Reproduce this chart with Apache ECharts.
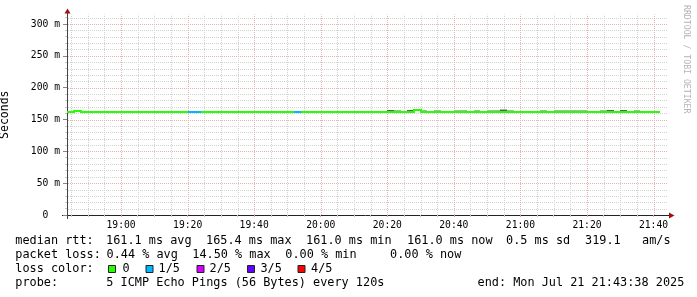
<!DOCTYPE html>
<html><head><meta charset="utf-8">
<script src="https://cdn.jsdelivr.net/npm/echarts@6/dist/echarts.min.js"></script>
<style>html,body{margin:0;padding:0;background:#fff}#c{width:697px;height:297px}</style>
</head><body><div id="c"></div>
<script>
// ---- data ----
const stepEndTimes = [
 '18:44','18:46','18:48','18:50','18:52','18:54','18:56','18:58',
 '19:00','19:02','19:04','19:06','19:08','19:10','19:12','19:14','19:16','19:18',
 '19:20','19:22','19:24','19:26','19:28','19:30','19:32','19:34','19:36','19:38',
 '19:40','19:42','19:44','19:46','19:48','19:50','19:52','19:54','19:56','19:58',
 '20:00','20:02','20:04','20:06','20:08','20:10','20:12','20:14','20:16','20:18',
 '20:20','20:22','20:24','20:26','20:28','20:30','20:32','20:34','20:36','20:38',
 '20:40','20:42','20:44','20:46','20:48','20:50','20:52','20:54','20:56','20:58',
 '21:00','21:02','21:04','21:06','21:08','21:10','21:12','21:14','21:16','21:18',
 '21:20','21:22','21:24','21:26','21:28','21:30','21:32','21:34','21:36','21:38',
 '21:40','21:42'];
const medianRtt = [
 161.1,161.1,162.6,161.2,161.1,161.0,161.1,161.1,161.0,161.1,
 161.1,161.1,161.0,161.1,161.1,161.1,161.0,161.1,161.1,161.2,
 161.1,161.0,161.1,161.1,161.1,161.0,161.1,161.1,161.2,161.1,
 161.1,161.0,161.1,161.1,161.0,161.2,161.1,161.1,161.0,161.1,
 161.1,161.1,161.0,161.1,161.1,161.1,161.0,161.1,161.1,161.3,
 161.1,161.0,161.2,165.4,161.1,161.0,161.1,161.1,161.0,161.1,
 161.1,161.0,161.1,161.1,161.1,161.2,161.1,161.1,161.0,161.1,
 161.1,161.0,161.1,161.1,161.1,161.0,161.1,161.1,161.1,161.0,
 161.1,161.1,161.1,161.0,161.2,161.1,161.0,161.1,161.1,161.0];
const lossCount = [
 0,0,0,0,0,0,0,0,0,0, 0,0,0,0,0,0,0,0,0,1,
 1,0,0,0,0,0,0,0,0,0, 0,0,0,0,0,1,0,0,0,0,
 0,0,0,0,0,0,0,0,0,0, 0,0,0,0,0,0,0,0,0,0,
 0,0,0,0,0,0,0,0,0,0, 0,0,0,0,0,0,0,0,0,0,
 0,0,0,0,0,0,0,0,0,0];
const smokeMax = [
 161.6,161.5,163.0,161.6,163.6,163.5,161.5,161.6,161.5,161.6,
 161.5,161.6,161.5,161.5,161.6,161.5,161.5,161.6,161.5,161.7,
 163.6,161.5,161.6,161.5,161.5,161.5,161.6,161.5,163.8,161.5,
 163.8,161.5,161.6,161.5,161.5,163.5,161.5,161.6,161.5,161.5,
 161.6,161.5,161.5,161.6,161.5,161.5,161.5,161.6,161.5,165.5,
 165.2,161.5,165.6,166.2,165.3,161.5,164.8,161.6,161.5,164.8,
 164.6,161.5,164.5,161.6,164.8,165.2,165.8,164.6,161.5,161.6,
 161.5,161.5,164.5,161.5,165.0,165.0,165.2,165.0,165.0,161.5,
 161.6,164.6,165.2,161.5,165.0,161.6,164.2,161.5,161.5,161.5];
const smokeCore = [
 161.1,161.1,162.6,161.2,161.1,161.0,161.1,161.1,161.0,161.1,
 161.1,161.1,161.0,161.1,161.1,161.1,161.0,161.1,161.1,161.2,
 161.1,161.0,161.1,161.1,161.1,161.0,161.1,161.1,161.2,161.1,
 161.1,161.0,161.1,161.1,161.0,161.2,161.1,161.1,161.0,161.1,
 161.1,161.1,161.0,161.1,161.1,161.1,161.0,161.1,161.1,165.2,
 161.1,161.0,165.1,165.4,161.1,161.0,161.1,161.1,161.0,161.1,
 161.1,161.0,161.1,161.1,161.1,161.2,165.4,161.1,161.0,161.1,
 161.1,161.0,161.1,161.1,161.1,161.0,161.1,161.1,161.1,161.0,
 161.1,161.1,165.0,161.0,165.0,161.1,161.0,161.1,161.1,161.0];
const majorTimeLabels = ['19:00','19:20','19:40','20:00','20:20','20:40','21:00','21:20','21:40'];
const yTickValues = [0,50,100,150,200,250,300];
const lossLabels = ['0','1/5','2/5','3/5','4/5'];
const lossColors = ['#26ff00','#00b8ff','#d400ff','#6400ff','#ff0000'];
const statsLine1 = [['median rtt:',15.3],['161.1 ms avg',106],['165.4 ms max',206],['161.0 ms min',306],['161.0 ms now',407],['0.5 ms sd',506],['319.1   am/s',585]];
const statsLine2 = [['packet loss:',15.3],['0.44 % avg',106.5],['14.50 % max',192.3],['0.00 % min',285.3],['0.00 % now',390]];
const probeLine = [['probe:',15.3],['5 ICMP Echo Pings (56 Bytes) every 120s',106.3],['end: Mon Jul 21 21:43:38 2025',477.5]];

// ---- helpers ----
const toMin = s => { const p = s.split(':'); return (+p[0]) * 60 + (+p[1]); };
const fmtMin = m => { const h = Math.floor(m / 60), mm = Math.round(m - h * 60); return String(h).padStart(2,'0') + ':' + String(mm).padStart(2,'0'); };
const STEP = 2;
const xMin = 1123.75, xMax = 1304.05;
const majorX = majorTimeLabels.map(toMin);
const minorX = [];
for (let m = 1125; m <= 1300; m += 5) if (m % 20 !== 0) minorX.push(m);
const minorY = [];
for (let v = 10; v <= 310; v += 10) if (v % 50 !== 0) minorY.push(v);
const majorY = yTickValues.filter(v => v > 0);

// grid rows: [kind, value]; kind 0 = minor vertical, 1 = major vertical, 2 = minor horizontal, 3 = major horizontal
const gridData = []
  .concat(minorX.map(v => [0, v]))
  .concat(minorY.map(v => [2, v]))
  .concat(majorX.map(v => [1, v]))
  .concat(majorY.map(v => [3, v]));

const medianData = stepEndTimes.map((t, i) => [toMin(t), medianRtt[i], lossCount[i]]);
const smokeData = stepEndTimes.map((t, i) => [toMin(t), medianRtt[i], smokeMax[i], smokeCore[i]]);

const MONO = "'DejaVu Sans Mono', monospace";

function gridItem(params, api) {
  const kind = api.value(0), v = api.value(1);
  const cs = params.coordSys;
  const major = kind === 1 || kind === 3;
  let shape;
  if (kind < 2) {
    const x = Math.round(api.coord([v, 0])[0]) + 0.5;
    shape = {x1:x, y1:cs.y + cs.height, x2:x, y2:cs.y};
  } else {
    const y = Math.round(api.coord([xMin, v])[1]) + 0.5;
    shape = {x1:cs.x + 1, y1:y, x2:cs.x + cs.width + 1, y2:y};
  }
  return {type:'line', shape:shape, style:{stroke: major ? '#e8b0b0' : '#d2d2d2', lineWidth:1, lineDash:[1,1]}};
}
function smokeItem(params, api) {
  const t1 = api.value(0), t0 = t1 - STEP;
  const cs = params.coordSys;
  const a = api.coord([t0, api.value(1)]), b = api.coord([t1, api.value(2)]), c = api.coord([t1, api.value(3)]);
  const x0 = Math.round(Math.max(a[0], cs.x)), x1 = Math.round(b[0]);
  const yb = Math.round(a[1]);
  const kids = [];
  const yt = Math.round(b[1]);
  if (yt < yb) kids.push({type:'rect', shape:{x:x0, y:yt, width:x1 - x0, height:yb - yt}, style:{fill:'#b0b0b0'}});
  const yc = Math.round(c[1]);
  if (yc < yb) kids.push({type:'rect', shape:{x:x0, y:yc, width:x1 - x0, height:yb - yc}, style:{fill:'#5c5c5c'}});
  return {type:'group', children:kids};
}
function medianItem(params, api) {
  const t1 = api.value(0), t0 = t1 - STEP;
  const cs = params.coordSys;
  const v = api.value(1), loss = api.value(2);
  const a = api.coord([t0, v]), b = api.coord([t1, v]);
  const x0 = Math.round(Math.max(a[0], cs.x)), x1 = Math.round(b[0]);
  const y = Math.round(a[1]);
  const col = lossColors[loss];
  const kids = [{type:'rect', shape:{x:x0, y:y - 1, width:x1 - x0, height:2}, style:{fill:col}}];
  const i = params.dataIndex;
  if (i > 0) {
    const py = Math.round(api.coord([t0, medianRtt[i - 1]])[1]);
    if (py !== y) kids.push({type:'rect', shape:{x:x0 - 1, y:Math.min(py, y) - 1, width:2, height:Math.abs(py - y) + 2}, style:{fill:col}});
  }
  return {type:'group', children:kids};
}

const graphics = [];
function txt(s, x, y, size, color) {
  graphics.push({type:'text', x:x, y:y, silent:true,
    style:{text:s, font: size + 'px ' + MONO, fill: color || '#000', align:'left', verticalAlign:'middle', textAlign:'left', textVerticalAlign:'middle'}});
}
statsLine1.forEach(p => txt(p[0], p[1], 241, 11.85));
statsLine2.forEach(p => txt(p[0], p[1], 255, 11.85));
txt('loss color:', 15.3, 269, 11.85);
const boxX = [108.5, 146, 197, 247.5, 298];
const labX = [122.6, 158.6, 209.6, 260.4, 311];
lossLabels.forEach((l, i) => {
  graphics.push({type:'rect', silent:true, shape:{x:boxX[i], y:265.5, width:7, height:7}, style:{fill:lossColors[i], stroke:'#222', lineWidth:1}});
  txt(l, labX[i], 269, 11.85);
});
probeLine.forEach(p => txt(p[0], p[1], 283, 11.85));
// watermark
graphics.push({type:'text', x:686.5, y:5, rotation:-Math.PI/2, silent:true,
  style:{text:'RRDTOOL / TOBI OETIKER', font:'8.2px ' + MONO, fill:'#b4b4b4', align:'left', verticalAlign:'middle', textAlign:'left', textVerticalAlign:'middle'}});
// axis lines and arrows
graphics.push({type:'line', silent:true, shape:{x1:62, y1:215.5, x2:669, y2:215.5}, style:{stroke:'#222', lineWidth:1}});
graphics.push({type:'line', silent:true, shape:{x1:67.5, y1:219, x2:67.5, y2:12}, style:{stroke:'#444', lineWidth:1}});
graphics.push({type:'polygon', silent:true, shape:{points:[[67.5,8.5],[64.5,13.5],[70.5,13.5]]}, style:{fill:'#a01010'}});
graphics.push({type:'polygon', silent:true, shape:{points:[[674.5,215.5],[669,212.5],[669,218.5]]}, style:{fill:'#a01010'}});

const chart = echarts.init(document.getElementById('c'), null, {renderer:'canvas'});
chart.setOption({
  animation:false,
  backgroundColor:'#ffffff',
  grid:{left:67, right:30, top:14.45, bottom:82, containLabel:false, outerBoundsMode:'none'},
  xAxis:[
    {type:'value', min:xMin, max:xMax, position:'bottom',
     axisLine:{show:false}, axisLabel:{show:false},
     axisTick:{show:true, customValues:minorX, length:2, lineStyle:{color:'#c8c8c8'}},
     splitLine:{show:false}},
    {type:'value', min:xMin, max:xMax, position:'bottom',
     axisLine:{show:false},
     axisTick:{show:true, customValues:majorX, length:2, lineStyle:{color:'#e0a0a0'}},
     axisLabel:{customValues:majorX, formatter:v => fmtMin(v), margin:5, fontFamily:MONO, fontSize:9.7, color:'#000'},
     splitLine:{show:false}}
  ],
  yAxis:[
    {type:'value', min:0, max:315,
     axisLine:{show:false}, axisLabel:{show:false},
     axisTick:{show:true, customValues:minorY, length:2, lineStyle:{color:'#c8c8c8'}},
     splitLine:{show:false}},
    {type:'value', min:0, max:315, position:'left',
     name:'Seconds', nameLocation:'middle', nameRotate:90, nameGap:56,
     nameTextStyle:{fontFamily:MONO, fontSize:11.5, color:'#000'},
     axisLine:{show:false},
     axisTick:{show:true, customValues:yTickValues, length:4, lineStyle:{color:'#888'}},
     axisLabel:{customValues:yTickValues, formatter:v => v === 0 ? '0\u00a0\u00a0' : v + ' m', margin:7, fontFamily:MONO, fontSize:9.7, color:'#000'},
     splitLine:{show:false}}
  ],
  series:[
    {type:'custom', name:'grid', xAxisIndex:0, yAxisIndex:0, renderItem:gridItem, data:gridData,
     encode:{x:1, y:1}, clip:false, silent:true, z:1},
    {type:'custom', name:'smoke', xAxisIndex:0, yAxisIndex:0, renderItem:smokeItem, data:smokeData,
     encode:{x:0, y:[1,2,3]}, clip:true, z:2},
    {type:'custom', name:'median', xAxisIndex:0, yAxisIndex:0, renderItem:medianItem, data:medianData,
     encode:{x:0, y:1}, clip:true, z:3}
  ],
  graphic:graphics
});
</script></body></html>
